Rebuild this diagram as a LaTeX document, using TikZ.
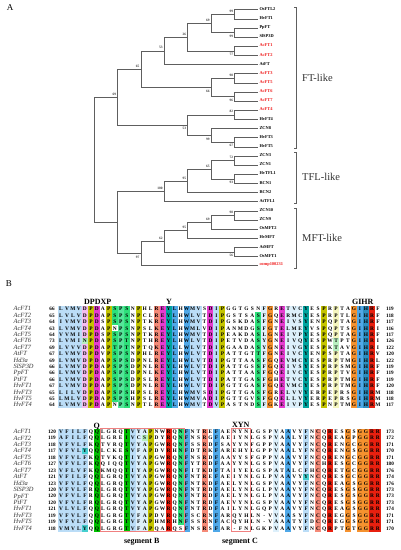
\documentclass[tikz,border=0pt]{standalone}
\usepackage{fontspec}
\setmainfont{Liberation Serif}
\usetikzlibrary{calc}
\definecolor{maska}{HTML}{BBDDF7}
\definecolor{maskb}{HTML}{4FA8E8}
\definecolor{maskc}{HTML}{DDF0FB}
\definecolor{maskp}{HTML}{F5BDF0}
\definecolor{masky}{HTML}{C4C400}
\definecolor{maskm}{HTML}{E63CD0}
\definecolor{maskg}{HTML}{2EE07A}
\definecolor{maskh}{HTML}{55E59A}
\definecolor{masks}{HTML}{F58A78}
\definecolor{maskt}{HTML}{00A5A0}
\definecolor{masko}{HTML}{F5922F}
\definecolor{maskd}{HTML}{2F8FC0}
\definecolor{maskr}{HTML}{E8200F}
\definecolor{maske}{HTML}{F4F5BE}
\definecolor{maskG}{HTML}{00C000}
\definecolor{maskn}{HTML}{45CFCF}
\definecolor{maskf}{HTML}{B8EFC0}
\definecolor{maskw}{HTML}{FFFFFF}
\definecolor{boxpink}{HTML}{F08080}
\definecolor{treegray}{HTML}{5E5E5E}
\definecolor{acred}{HTML}{F01818}
\tikzset{
  branch/.style={draw=treegray,line width=0.85pt},
  bracketline/.style={draw=treegray,line width=0.85pt},
  boot/.style={inner sep=0pt,anchor=east,font=\fontsize{3.5}{4}\selectfont\bfseries,text=black!75},
  tipl/.style={inner sep=0pt,anchor=west,font=\fontsize{4.4}{5}\selectfont\bfseries},
  grouplabel/.style={inner sep=0pt,anchor=west,font=\fontsize{10.5}{12}\selectfont,text=black!80},
  panel/.style={inner sep=0pt,font=\fontsize{9}{10}\selectfont},
  motif/.style={inner sep=0pt,anchor=base,font=\fontsize{8}{9}\selectfont\bfseries},
  aa/.style={inner sep=0pt,anchor=base,font=\fontsize{5.4}{6}\selectfont\bfseries},
  seqname/.style={inner sep=0pt,anchor=base west,font=\fontsize{6.4}{7}\selectfont\itshape,text=black!80},
  seqnum/.style={inner sep=0pt,anchor=base,font=\fontsize{5.2}{6}\selectfont\bfseries},
  segbox/.style={draw=boxpink,line width=0.9pt}
}
\newcount\seqc
\newcount\rowc
\def\xzero{61}\def\xstep{5.98}
\def\masknext#1{\ifx#1\relax\else
  \ifx#1.\else
    \pgfmathsetmacro{\cx}{\xzero+\the\seqc*\xstep}
    \fill[mask#1] (\cx-\xstep/2-0.03,\ytop) rectangle (\cx+\xstep/2+0.03,\ybot);
  \fi
  \advance\seqc by 1
  \expandafter\masknext\fi}
\newcommand\bandfill[3]{\def\ytop{#1}\def\ybot{#2}\seqc=0 \masknext#3\relax}
\newcommand\cellfill[3]{%
  \pgfmathsetmacro{\cx}{\xzero+(#1-1)*\xstep}
  \pgfmathsetmacro{\cy}{\yfirst+(#2-1)*\ydelta}
  \fill[mask#3] (\cx-\xstep/2,\cy-\ydelta/2) rectangle (\cx+\xstep/2,\cy+\ydelta/2);}
\def\lettnext#1{\ifx#1\relax\else
  \pgfmathsetmacro{\cx}{\xzero+\the\seqc*\xstep}
  \node[aa] at (\cx,\cy+1.85) {#1};
  \advance\seqc by 1
  \expandafter\lettnext\fi}
\newcommand\alnrow[4]{%
  \pgfmathsetmacro{\cy}{\yfirst+\the\rowc*\ydelta}
  \node[seqname] at (13.5,\cy+1.9) {#1};
  \node[seqnum] at (52,\cy+1.8) {#2};
  \node[seqnum] at (390,\cy+1.8) {#4};
  \seqc=0 \lettnext#3\relax
  \advance\rowc by 1 }
\newcommand\clade[6]{%
  \path let \p1=(#3),\p2=(#4) in coordinate (#1) at (#2pt,{(\y1+\y2)/2});
  \draw[branch] (#3) -| (#1);
  \draw[branch] (#4) -| (#1);
  \node[boot] (#1l) at ([shift={(-1.5,#6)}]#1) {#5};}
\begin{document}
\begin{tikzpicture}[x=1pt,y=-1pt]
\useasboundingbox (0,0) rectangle (400,550);
\fill[white] (0,0) rectangle (400,550);
\def\dA{94}\def\dB{117.7}\def\dC{141}\def\dD{164.3}\def\dE{187.7}\def\dF{211.3}\def\dG{234.7}
\def\up{-3.4}\def\dn{3.4}
\node[panel] (pa) at (10,8) {A};
\foreach \i/\nm/\c in {0/OsFTL2/black,1/HvFT1/black,2/PpFT/black,3/SlSP3D/black,4/AcFT1/acred,5/AcFT2/acred,6/AtFT/black,7/AcFT3/acred,8/AcFT5/acred,9/AcFT6/acred,10/AcFT7/acred,11/AcFT4/acred,12/HvFT4/black,13/ZCN8/black,14/HvFT3/black,15/HvFT5/black,16/ZCN3/black,17/ZCN1/black,18/HvTFL1/black,19/RCN1/black,20/RCN2/black,21/AtTFL1/black,22/ZCN10/black,23/ZCN9/black,24/OsMFT2/black,25/HvMFT/black,26/AtMFT/black,27/OsMFT1/black,28/comp100231/acred}{
  \coordinate (t\i) at (257.7,{9.9+9.14*\i});
  \node[tipl,text=\c] (n\i) at (259.3,{9+9.14*\i}) {\nm};
}
\clade{aA}{\dG}{t0}{t1}{99}{\up}
\clade{aB}{\dG}{t2}{t3}{99}{\dn}
\clade{aC}{\dF}{aA}{aB}{69}{\up}
\clade{aD}{\dG}{t4}{t5}{77}{\dn}
\clade{aE}{\dE}{aC}{aD}{26}{\up}
\clade{aF}{\dD}{aE}{t6}{53}{\up}
\clade{bA}{\dG}{t7}{t8}{98}{\up}
\clade{bB}{\dG}{t9}{t10}{96}{\dn}
\clade{bC}{\dF}{bA}{bB}{66}{\dn}
\clade{cZ}{\dC}{aF}{bC}{65}{\up}
\clade{cA}{\dG}{t11}{t12}{82}{\up}
\clade{cB}{\dG}{t14}{t15}{67}{\dn}
\clade{cC}{\dF}{t13}{cB}{99}{\dn}
\clade{cD}{\dE}{cA}{cC}{53}{\dn}
\clade{cE}{\dB}{cZ}{cD}{69}{\up}
\clade{eA}{\dG}{t16}{t17}{72}{\up}
\clade{eB}{\dG}{t18}{t19}{93}{\dn}
\clade{eC}{\dF}{eA}{eB}{65}{\up}
\clade{eD}{\dE}{eC}{t20}{95}{\up}
\clade{eE}{\dD}{eD}{t21}{100}{\up}
\clade{fA}{\dG}{t22}{t23}{98}{\up}
\clade{fB}{\dF}{fA}{t24}{69}{\up}
\clade{fC}{\dE}{fB}{t25}{95}{\up}
\clade{fD}{\dG}{t26}{t27}{56}{\dn}
\clade{fE}{\dD}{fC}{fD}{62}{\up}
\clade{fF}{\dC}{fE}{t28}{97}{\dn}
\clade{gA}{\dB}{eE}{fF}{}{\up}
\clade{rootn}{\dA}{cE}{gA}{}{\up}
% brackets
\draw[bracketline] (294.3,7.3) -- (296.3,7.3) -- (296.3,148.3) -- (294.3,148.3);
\draw[bracketline] (294.3,152.7) -- (296.3,152.7) -- (296.3,203) -- (294.3,203);
\draw[bracketline] (294.3,208.3) -- (296.3,208.3) -- (296.3,268.3) -- (294.3,268.3);
\node[grouplabel] (g1) at (302,77.7) {FT-like};
\node[grouplabel] (g2) at (302,177) {TFL-like};
\node[grouplabel] (g3) at (302,238) {MFT-like};
% panel B
\node[panel] (pb) at (9,284) {B};
\node[motif] (m1) at (97.7,304.5) {DPDXP};
\node[motif] (m2) at (169,304.5) {Y};
\node[motif] (m3) at (362.7,304.5) {GIHR};
\def\yfirst{309}\def\ydelta{6.4}
\bandfill{305.8}{408.2}{aaaapym.yghg.y..smtb.baa.may.....gco.mccct..y.e..obdr.}
\cellfill{34}{1}{w}
\cellfill{10}{4}{w}
\cellfill{10}{16}{w}
\cellfill{5}{6}{f}
\cellfill{47}{6}{f}
\cellfill{47}{7}{f}
\rowc=0
\alnrow{AcFT1}{66}{LVMVDPDAPSPSNPHLREYLHWMVSDIPGGTGSNFGRETVCYESPRPTAGIHRF}{119}
\alnrow{AcFT2}{65}{LVLVDPDAPSPSNPCLREYLHWLVTDIPGSTSASFGQERMCYESPRPTLGIHRF}{118}
\alnrow{AcFT3}{64}{IVMVDPDSPSPSNPTKREYLHWMVTDIPGSKDASFGNEIVSYENPQPTAGIHRF}{117}
\alnrow{AcFT4}{63}{LVMVDPDAPNPSNPSLKEYLHWMLVDIPANMDGSFGTELMEYVSPQPTSGIHRI}{116}
\alnrow{AcFT5}{64}{VVMIDPDSPSPSNPTKREYLHWMVTDIPEAKDASLGNEIVPYESPQPTAGIHRF}{117}
\alnrow{AcFT6}{73}{LVMINPDAPSPTNPTHREYLHWLVTDIPETVDASYGNEIVQYESPWTPTGIHRI}{126}
\alnrow{AcFT7}{69}{LVVVDPDAPTPTNPTQKEYLLWLVTDIPGAADASYGNEIVGYESPKTAVGIHRI}{122}
\alnrow{AtFT}{67}{LVMVDPDVPSPSNPHLREYLHWLVTDIPATTGTTFGNEIVCYENPSPTAGIHRV}{120}
\alnrow{Hd3a}{69}{LVMVDPDAPSPSDPNLREYLHWLVTDIPGTTAASFGQEVMCYESPRPTMGIHRL}{122}
\alnrow{SlSP3D}{66}{LVMVDPDAPSPSDPNLREYLHWLVTDIPATTGSSFGQEIVSYESPRPSMGIHRF}{119}
\alnrow{PpFT}{66}{LVMVDPDAPSPSDPNLKEYLHWLVTDIPATTAASFGQEIVCYESPRPTVGIHRF}{119}
\alnrow{PtFT}{66}{LVMVDPDAPSPSDPSLREYLHWLVTDIPATTGASFGHETVCYESPRPTMGIHRF}{119}
\alnrow{HvFT1}{67}{LVMVDPDAPSPSDPNLREYLHWLVTDIPGTTGASFGQEVMCYESPRPTMGIHRF}{120}
\alnrow{HvFT3}{65}{LILVDPDAPSPSHPSLREYLHWMVSDIPGTTGASFGRELVVYERPEPRSGIHRM}{118}
\alnrow{HvFT5}{65}{LMLVDPDAPSPSHPSLREYLHWMVADIPGTTGVSFGQELLVYERPEPRSGIHRM}{118}
\alnrow{HvFT4}{64}{LVMVDPDAPNPSNPTLREYLHWMVTDVPASTNDSFGKEIVPYESPNPTMGIHRM}{117}
\node[motif] (m4) at (96.7,428) {Q};
\node[motif] (m5) at (240.7,427.5) {XYN};
\def\yfirst{431.7}\def\ydelta{6.44}
\bandfill{428.5}{531.5}{aaaaa.G....Gaccy..r.gb..s.b.........c.b..a.s.r..o.oorr}
\cellfill{15}{2}{f}
\cellfill{5}{4}{n}
\cellfill{5}{16}{n}
\cellfill{21}{16}{w}
\cellfill{42}{8}{n}
\rowc=0
\alnrow{AcFT1}{120}{VFILFQQLGRQTVYAPNWRQNFNTREFAENYNLGSPVAAVYFNCQRESGSGGRR}{173}
\alnrow{AcFT2}{119}{AFILFQQLGREIVCSPDYRQNFNSRGFAEIYNLGSPVAALYFNCQREAGPGGRR}{172}
\alnrow{AcFT3}{118}{VFVLFKQTVRQTVYAPGWRQNFSSRDFSAYYNFGPPVAAVYFNCQRENGCGGRR}{171}
\alnrow{AcFT4}{117}{VFVLYQQLCKESVFAPDVRHNFDTRKFAREHYLGPPVAALYFNCQRENGSGGRR}{170}
\alnrow{AcFT5}{118}{VFVLFKQTVKQTIYAPGWRQNFNSRDFAAYYSFGPPVAAVYFNCQRENGCGGRR}{171}
\alnrow{AcFT6}{127}{VFVLFKQQIQQTVYAPGWRQNFYTRDFAAYYNLGSPVAAVYFNCHRESGCGGRR}{180}
\alnrow{AcFT7}{123}{VFLVFKQKMQQTIYAPGWRQNFITKDFTAIYELGSPATALCFHCQRETGCGGRR}{176}
\alnrow{AtFT}{121}{VFILFQQLGRQTVYAPGWRQNFNTREFAEIYNLGLPVAAVYYNCQRESGCGGRR}{174}
\alnrow{Hd3a}{123}{VFVLFQQLGRQTVYAPGWRQNFNTKDFAELYNLGSPVAAVYFNCQREAGSGGRR}{176}
\alnrow{SlSP3D}{120}{VFVLFRQLGRQTVYAPGWRQNFNTRDFAELYNLGLPVAAVYFNCQRESGSGGRR}{173}
\alnrow{PpFT}{120}{VFVLFRQLGRQTVYAPGWRQNFNTRDFAELYNLGLPVAAVYFNCQRESGSGGRR}{173}
\alnrow{PtFT}{120}{VFVLFRQLGRQTVYAPGWRQNFNTRDFAEVYNLGSPVAAVYFNCQRESGSGGRR}{173}
\alnrow{HvFT1}{121}{VLVLFQQLGRQTVYAPGWRQNFNTRDFAILYNLGQPVAAVYFNCQREAGSGGRR}{174}
\alnrow{HvFT3}{119}{VFVLFQQLGRGTVFAPDVRQNFSCRNFARQYHLN-VVAASYFNCQREGGSGGRR}{171}
\alnrow{HvFT5}{119}{VFVLFQQLGRGTVFAPHMRHNFSSRNFACQYHLN-VAAATYFDCQREGGSGGRR}{171}
\alnrow{HvFT4}{118}{VMVLYQQLGRGTVFAPQARQSFNSRSFAR-FNLGKPVAAVYFNCQRPTGTGGRR}{170}
\draw[segbox] (100.7,428) rectangle (184,531.5);
\draw[segbox] (231,428) rectangle (250,531.5);
\node[motif] (s1) at (141.7,543) {segment B};
\node[motif] (s2) at (240,543) {segment C};
\end{tikzpicture}
\end{document}
